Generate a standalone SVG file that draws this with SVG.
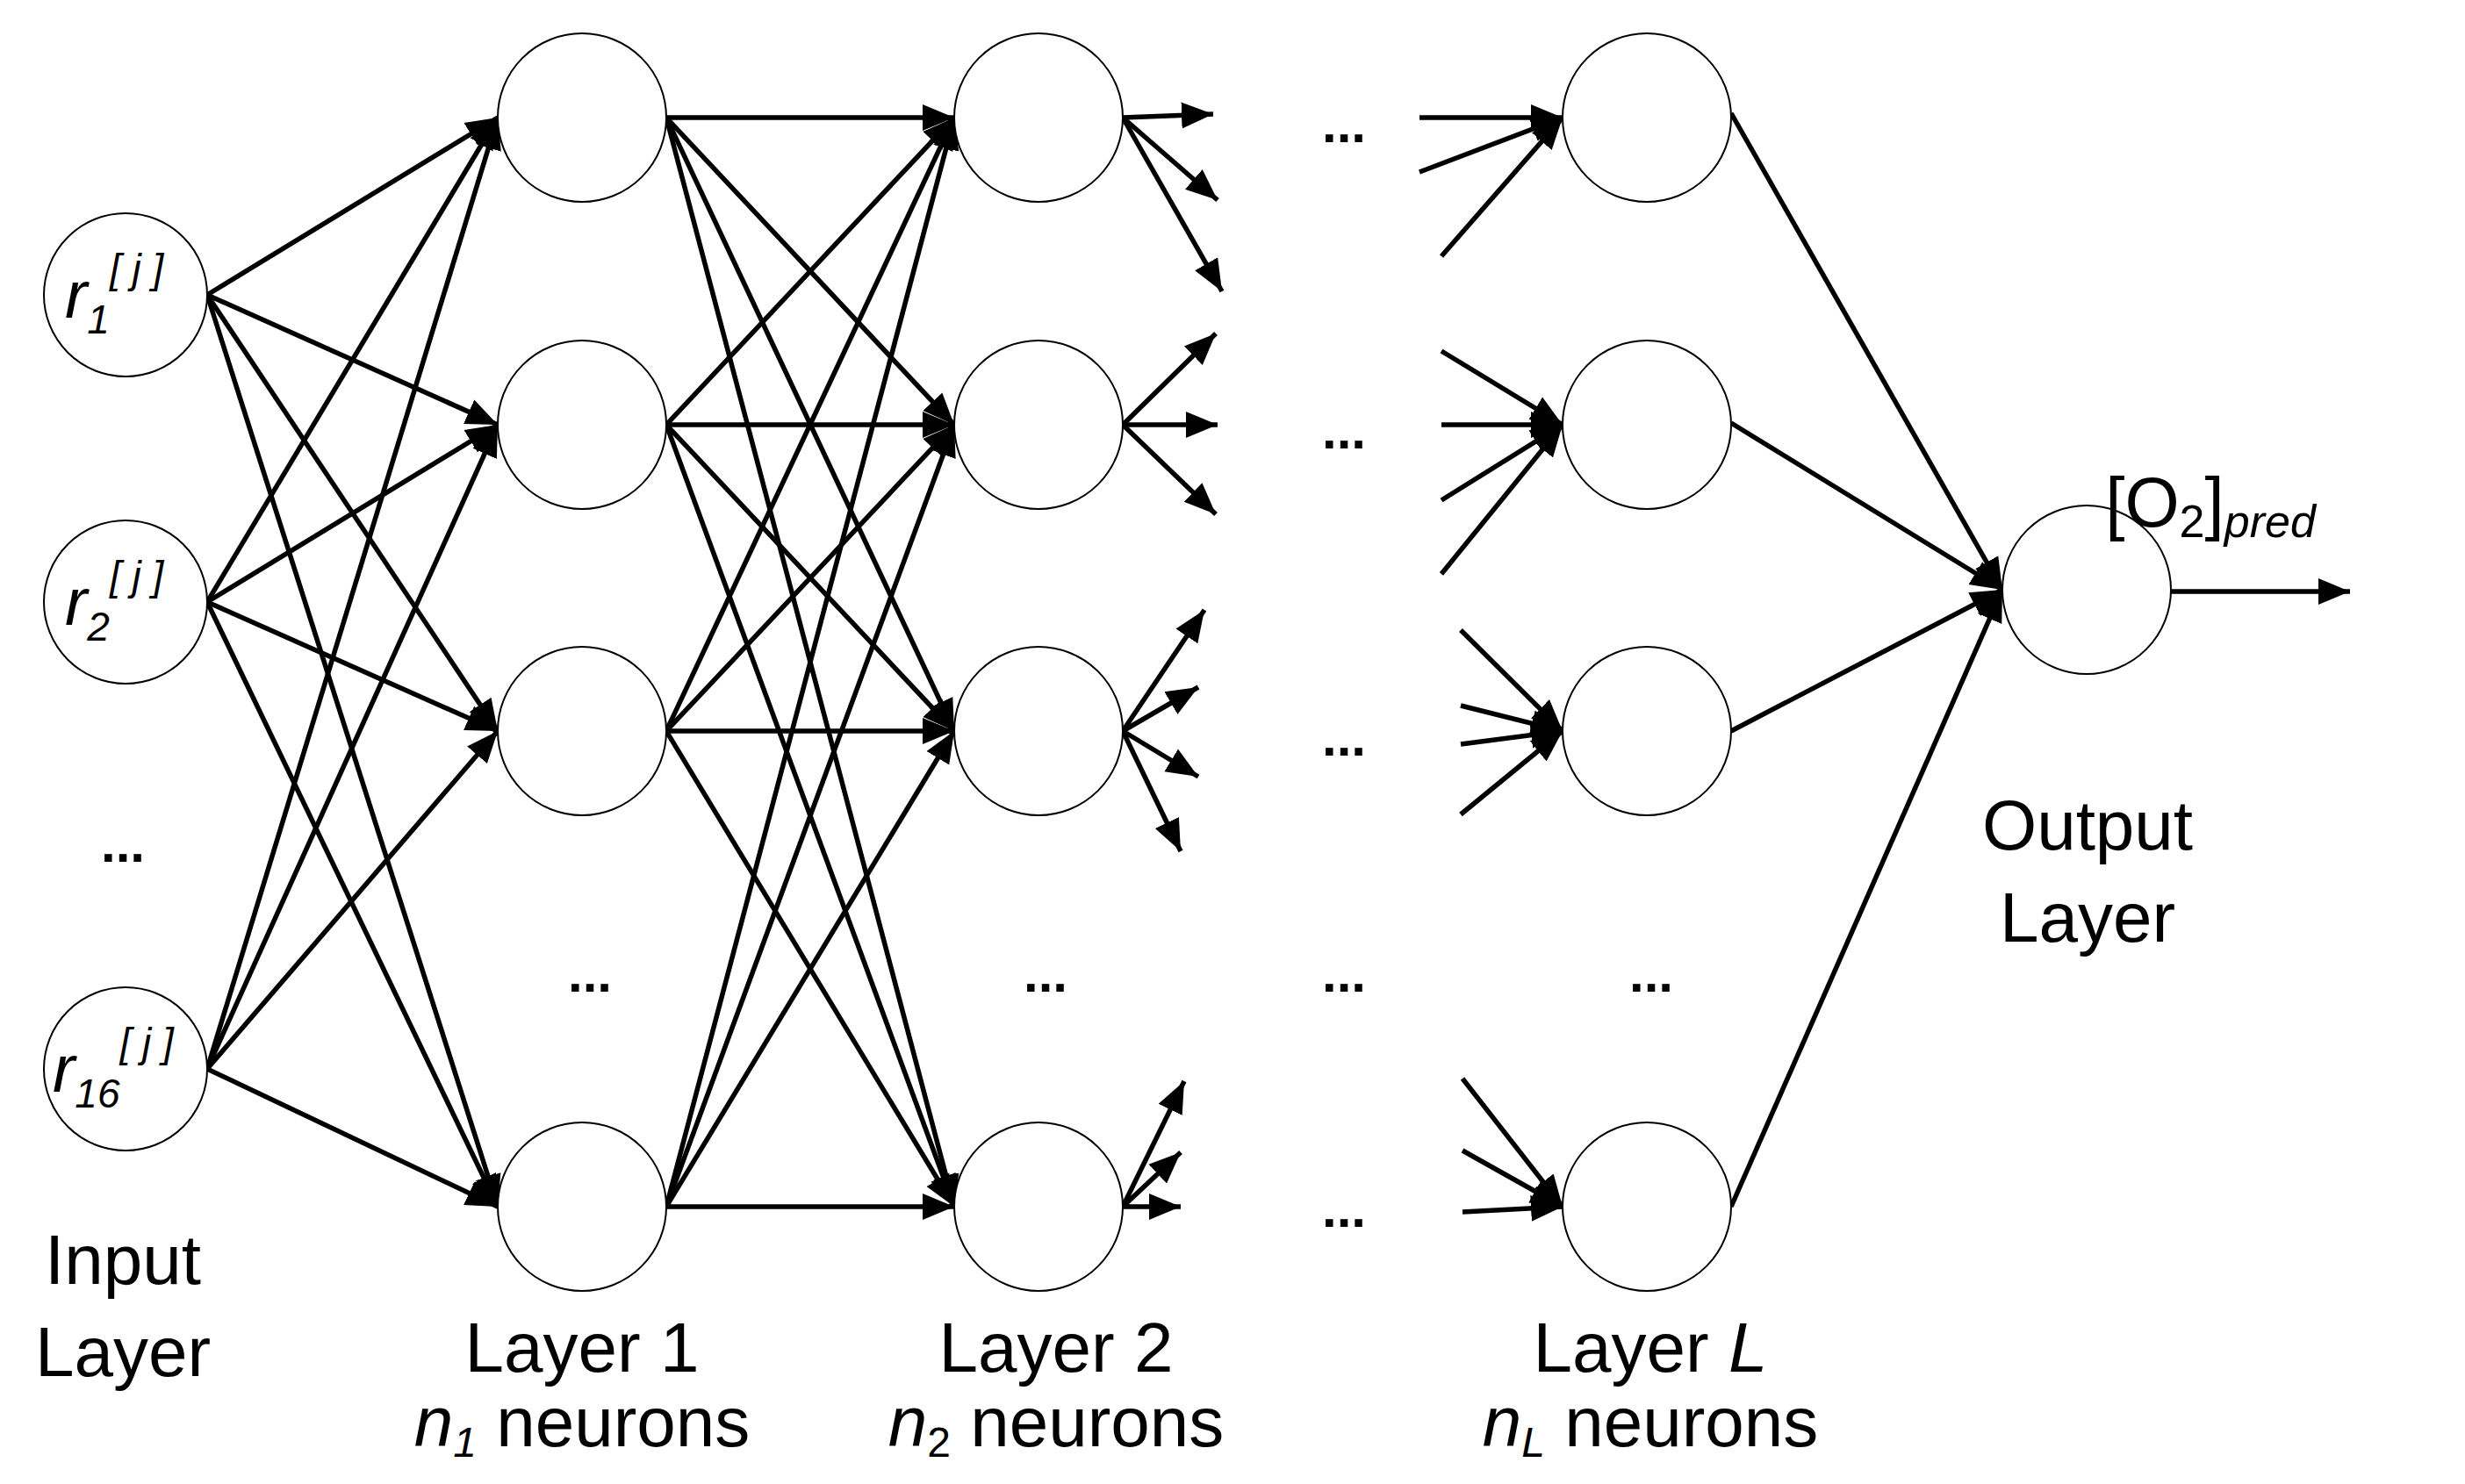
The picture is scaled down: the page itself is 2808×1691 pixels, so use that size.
<svg xmlns="http://www.w3.org/2000/svg" width="2808" height="1691" viewBox="0 0 2808 1691">
<style>
.n{fill:#fff;stroke:#000;stroke-width:2}
.e{stroke:#000;stroke-width:5.5;fill:none;marker-end:url(#a)}
.t{font-family:"Liberation Sans",Arial,sans-serif;font-size:80px;fill:#000;text-anchor:middle}
.d{font-family:"Liberation Sans",Arial,sans-serif;font-size:60px;font-weight:bold;fill:#000;text-anchor:middle}
.l{font-family:"Liberation Sans",Arial,sans-serif;font-style:italic;font-size:76px;fill:#000}
</style>
<defs>
<marker id="a" markerUnits="userSpaceOnUse" markerWidth="40" markerHeight="40" refX="36" refY="15" orient="auto" viewBox="0 0 40 30">
<path d="M0,0 L36,15 L0,30 Z" fill="#000"/>
</marker>
</defs>
<rect width="2808" height="1691" fill="#fff"/>
<g id="connectors">
<line class="e" x1="236" y1="336" x2="567" y2="134"/>
<line class="e" x1="236" y1="336" x2="567" y2="484"/>
<line class="e" x1="236" y1="336" x2="567" y2="833"/>
<line class="e" x1="236" y1="336" x2="567" y2="1375"/>
<line class="e" x1="236" y1="686" x2="567" y2="134"/>
<line class="e" x1="236" y1="686" x2="567" y2="484"/>
<line class="e" x1="236" y1="686" x2="567" y2="833"/>
<line class="e" x1="236" y1="686" x2="567" y2="1375"/>
<line class="e" x1="236" y1="1218" x2="567" y2="134"/>
<line class="e" x1="236" y1="1218" x2="567" y2="484"/>
<line class="e" x1="236" y1="1218" x2="567" y2="833"/>
<line class="e" x1="236" y1="1218" x2="567" y2="1375"/>
<line class="e" x1="759" y1="134" x2="1087" y2="134"/>
<line class="e" x1="759" y1="134" x2="1087" y2="484"/>
<line class="e" x1="759" y1="134" x2="1087" y2="833"/>
<line class="e" x1="759" y1="134" x2="1087" y2="1375"/>
<line class="e" x1="759" y1="484" x2="1087" y2="134"/>
<line class="e" x1="759" y1="484" x2="1087" y2="484"/>
<line class="e" x1="759" y1="484" x2="1087" y2="833"/>
<line class="e" x1="759" y1="484" x2="1087" y2="1375"/>
<line class="e" x1="759" y1="833" x2="1087" y2="134"/>
<line class="e" x1="759" y1="833" x2="1087" y2="484"/>
<line class="e" x1="759" y1="833" x2="1087" y2="833"/>
<line class="e" x1="759" y1="833" x2="1087" y2="1375"/>
<line class="e" x1="759" y1="1375" x2="1087" y2="134"/>
<line class="e" x1="759" y1="1375" x2="1087" y2="484"/>
<line class="e" x1="759" y1="1375" x2="1087" y2="833"/>
<line class="e" x1="759" y1="1375" x2="1087" y2="1375"/>
<line class="e" x1="1279" y1="134" x2="1382" y2="130"/>
<line class="e" x1="1279" y1="134" x2="1387" y2="228"/>
<line class="e" x1="1279" y1="134" x2="1392" y2="332"/>
<line class="e" x1="1279" y1="484" x2="1385" y2="380"/>
<line class="e" x1="1279" y1="484" x2="1387" y2="484"/>
<line class="e" x1="1279" y1="484" x2="1385" y2="586"/>
<line class="e" x1="1279" y1="833" x2="1372" y2="695"/>
<line class="e" x1="1279" y1="833" x2="1365" y2="783"/>
<line class="e" x1="1279" y1="833" x2="1365" y2="885"/>
<line class="e" x1="1279" y1="833" x2="1345" y2="970"/>
<line class="e" x1="1279" y1="1375" x2="1349" y2="1232"/>
<line class="e" x1="1279" y1="1375" x2="1345" y2="1313"/>
<line class="e" x1="1279" y1="1375" x2="1345" y2="1375"/>
<line class="e" x1="1617" y1="134" x2="1780" y2="134"/>
<line class="e" x1="1617" y1="196" x2="1780" y2="134"/>
<line class="e" x1="1642" y1="292" x2="1780" y2="134"/>
<line class="e" x1="1642" y1="400" x2="1780" y2="484"/>
<line class="e" x1="1642" y1="484" x2="1780" y2="484"/>
<line class="e" x1="1642" y1="570" x2="1780" y2="484"/>
<line class="e" x1="1642" y1="654" x2="1780" y2="484"/>
<line class="e" x1="1664" y1="718" x2="1780" y2="833"/>
<line class="e" x1="1664" y1="804" x2="1780" y2="833"/>
<line class="e" x1="1664" y1="848" x2="1780" y2="833"/>
<line class="e" x1="1664" y1="928" x2="1780" y2="833"/>
<line class="e" x1="1666" y1="1229" x2="1780" y2="1375"/>
<line class="e" x1="1666" y1="1311" x2="1780" y2="1375"/>
<line class="e" x1="1666" y1="1381" x2="1780" y2="1375"/>
<line class="e" x1="1972" y1="129" x2="2281" y2="672"/>
<line class="e" x1="1972" y1="482" x2="2281" y2="672"/>
<line class="e" x1="1972" y1="833" x2="2281" y2="672"/>
<line class="e" x1="1972" y1="1375" x2="2281" y2="672"/>
<line class="e" x1="2473" y1="674" x2="2677" y2="674"/>
</g>
<g id="input1"><circle class="n" cx="143" cy="336" r="93"/><text class="l" x="74" y="362">r<tspan font-size="46" dy="18">1</tspan><tspan font-size="46" dy="-58">[ j ]</tspan></text></g>
<g id="input2"><circle class="n" cx="143" cy="686" r="93"/><text class="l" x="74" y="712">r<tspan font-size="46" dy="18">2</tspan><tspan font-size="46" dy="-58">[ j ]</tspan></text></g>
<g id="input16"><circle class="n" cx="143" cy="1218" r="93"/><text class="l" x="60" y="1244">r<tspan font-size="46" dy="18">16</tspan><tspan font-size="46" dy="-58">[ j ]</tspan></text></g>
<g id="l1n1"><circle class="n" cx="663" cy="134" r="96"/></g>
<g id="l1n2"><circle class="n" cx="663" cy="484" r="96"/></g>
<g id="l1n3"><circle class="n" cx="663" cy="833" r="96"/></g>
<g id="l1n4"><circle class="n" cx="663" cy="1375" r="96"/></g>
<g id="l2n1"><circle class="n" cx="1183" cy="134" r="96"/></g>
<g id="l2n2"><circle class="n" cx="1183" cy="484" r="96"/></g>
<g id="l2n3"><circle class="n" cx="1183" cy="833" r="96"/></g>
<g id="l2n4"><circle class="n" cx="1183" cy="1375" r="96"/></g>
<g id="lLn1"><circle class="n" cx="1876" cy="134" r="96"/></g>
<g id="lLn2"><circle class="n" cx="1876" cy="484" r="96"/></g>
<g id="lLn3"><circle class="n" cx="1876" cy="833" r="96"/></g>
<g id="lLn4"><circle class="n" cx="1876" cy="1375" r="96"/></g>
<g id="output"><circle class="n" cx="2377" cy="672" r="96"/></g>
<g id="labels">
<text class="d" x="140" y="982">...</text>
<text class="d" x="672" y="1130">...</text>
<text class="d" x="1191" y="1130">...</text>
<text class="d" x="1531" y="162">...</text>
<text class="d" x="1531" y="511">...</text>
<text class="d" x="1531" y="861">...</text>
<text class="d" x="1531" y="1130">...</text>
<text class="d" x="1531" y="1398" font-weight="normal">...</text>
<text class="d" x="1881" y="1130">...</text>
<text class="t" x="140" y="1463">Input</text>
<text class="t" x="140" y="1568">Layer</text>
<text class="t" x="663" y="1563">Layer 1</text>
<text class="t" x="663" y="1648"><tspan font-style="italic">n</tspan><tspan font-style="italic" font-size="48" dy="12">1</tspan><tspan dy="-12"> neurons</tspan></text>
<text class="t" x="1203" y="1563">Layer 2</text>
<text class="t" x="1203" y="1648"><tspan font-style="italic">n</tspan><tspan font-size="48" dy="12">2</tspan><tspan dy="-12"> neurons</tspan></text>
<text class="t" x="1880" y="1563">Layer <tspan font-style="italic">L</tspan></text>
<text class="t" x="1880" y="1648"><tspan font-style="italic">n</tspan><tspan font-style="italic" font-size="48" dy="12">L</tspan><tspan dy="-12"> neurons</tspan></text>
<text class="t" x="2378" y="968">Output</text>
<text class="t" x="2378" y="1073">Layer</text>
<text class="t" x="2518" y="600" text-anchor="start">[O<tspan font-size="52" dy="12">2</tspan><tspan dy="-12">]</tspan><tspan font-style="italic" font-size="52" dy="12">pred</tspan></text>
</g>
</svg>
